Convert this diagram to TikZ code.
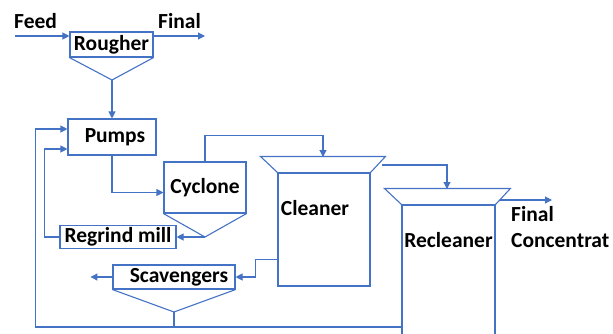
\documentclass[tikz,border=0pt]{standalone}
\usepackage{fontspec}
\setmainfont{Carlito}
\usetikzlibrary{arrows.meta,calc}
\definecolor{cLine}{HTML}{4472C4}

\begin{document}
\begin{tikzpicture}[
  x=1pt,y=-1pt,
  font=\fontsize{21.5}{25}\selectfont\bfseries,
  >={Triangle[length=7pt,width=7pt]},
  box/.style={draw=cLine,line width=1.1pt,inner sep=0pt},
  pipe/.style={cLine,line width=1.1pt},
  flow/.style={pipe,->},
  lbl/.style={inner sep=0pt},
]
\useasboundingbox (0,0) rectangle (613,333);
\clip (0,0) rectangle (613,333);

% ---------- ROUGHER ----------
\node[box,minimum width=83pt,minimum height=25pt] (rougher) at (111.5,44.5) {Rougher};
\coordinate (rapex) at (112,80);
\draw[pipe] (rougher.south west) -- (rapex) -- (rougher.south east);
\node[lbl,anchor=base west] (feed) at (14,28) {Feed};
\node[lbl,anchor=base west] (final) at (158,28) {Final};
\coordinate (feedin) at (15,36);
\coordinate (finalout) at (205,36);
\draw[flow] (feedin) -- (feedin -| rougher.west);
\draw[flow] (finalout -| rougher.east) -- (finalout);

% ---------- GRINDING ----------
\node[box,minimum width=88pt,minimum height=36pt] (pumps) at (112,137) {\hspace*{6pt}Pumps};
\node[box,minimum width=82pt,minimum height=51pt] (cyclone) at (205,187.5) {Cyclone};
\coordinate (capex) at (205,237);
\draw[pipe] (cyclone.south west) -- (capex) -- (cyclone.south east);
\node[box,minimum width=116pt,minimum height=23pt] (regrind) at (118,237) {Regrind mill};

\draw[flow] (rapex) -- (pumps);
\draw[flow] (pumps.south) |- ([yshift=-5pt]cyclone.west);
\draw[flow] (capex) -- (regrind);
\draw[flow] (regrind.west) -- ++(-15,0) |- ([yshift=-12pt]pumps.west);

% ---------- CLEANER ----------
\node[box,minimum width=92pt,minimum height=113pt,
  label={[lbl,anchor=base,xshift=-9pt,yshift=-43pt]north:Cleaner}] (cleaner) at (324,229.5) {};
\draw[pipe] (cleaner.north west) -- ++(-17,-16) -- ++(125,0) -- (cleaner.north east);
\coordinate (clin) at (323,157);
\coordinate (clout) at (382,165);
\draw[flow] (cyclone.north) -- ++(0,-26) -| (clin);

% ---------- RECLEANER ----------
\node[box,minimum width=93pt,minimum height=140pt,
  label={[lbl,anchor=base,yshift=-43pt]north:Recleaner}] (recleaner) at (448.5,275) {};
\draw[pipe] (recleaner.north west) -- ++(-17,-16) -- ++(126,0) -- (recleaner.north east);
\coordinate (rcin) at (447,189);
\coordinate (rcout) at (500,200);
\coordinate (fcend) at (552,200);
\draw[flow] (clout) -| (rcin);
\draw[flow] (rcout) -- (fcend);
\node[lbl,anchor=north west,align=left] (fconc) at (511,206) {Final\\[1pt]Concentrat};

% ---------- SCAVENGERS ----------
\node[box,minimum width=122pt,minimum height=24pt] (scav) at (174,277) {\hspace*{10pt}Scavengers};
\coordinate (sapex) at (174,312);
\draw[pipe] (scav.south west) -- (sapex) -- (scav.south east);
\draw[flow] ([yshift=-30pt]cleaner.west) -- ++(-22,0) |- (scav.east);
\draw[flow] (scav.west) -- ++(-22,0);

% ---------- RECYCLE ----------
\coordinate (tails) at (403,327);
\draw[pipe] (sapex) -- (sapex |- tails);
\draw[flow] (tails) -| ([xshift=-32pt,yshift=8pt]pumps.west) -- ([yshift=8pt]pumps.west);

\end{tikzpicture}
\end{document}
